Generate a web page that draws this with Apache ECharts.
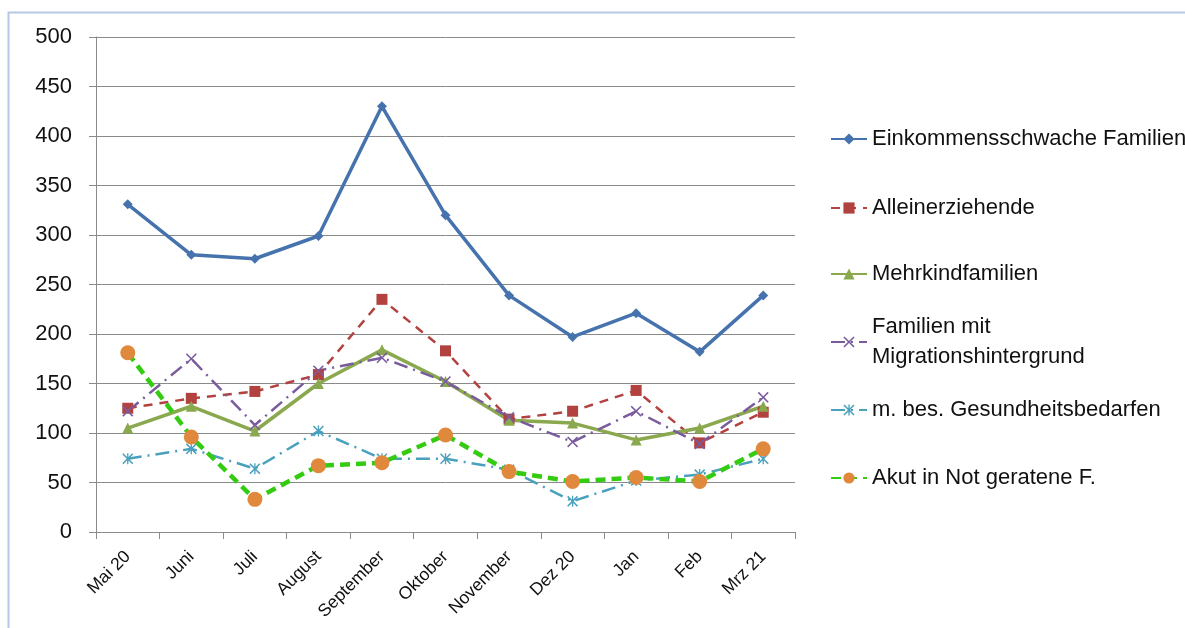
<!DOCTYPE html>
<html>
<head>
<meta charset="utf-8">
<script src="https://cdn.jsdelivr.net/npm/echarts@6/dist/echarts.min.js"></script>
<style>html,body{margin:0;padding:0;background:#fff;}#chart{width:1185px;height:628px;}</style>
</head>
<body>
<div id="chart"></div>
<script>
const categories = ['Mai 20','Juni','Juli','August','September','Oktober','November','Dez 20','Jan','Feb','Mrz 21'];
const yTicks = [0,50,100,150,200,250,300,350,400,450,500];
const seriesNames = ['Einkommensschwache Familien','Alleinerziehende','Mehrkindfamilien','Familien mit Migrationshintergrund','m. bes. Gesundheitsbedarfen','Akut in Not geratene F.'];
const einkommensschwach = [331,280,276,299,430,320,239,197,221,182,239];
const alleinerziehende = [125,135,142,159,235,183,114,122,143,90,121];
const mehrkind = [105,127,102,150,184,152,113,110,93,105,127];
const migration = [122,175,108,163,176,152,116,91,122,89,136];
const gesundheit = [74,84,64,102,74,74,63,31,52,58,74];
const akut = [181,96,33,67,70,98,61,51,55,51,84];

const FONT = '"Liberation Sans", Arial, sans-serif';
const xPath = 'path://M0,1 L1,0 L5,4 L9,0 L10,1 L6,5 L10,9 L9,10 L5,6 L1,10 L0,9 L4,5 Z';
const starPath = 'path://M0,1 L1,0 L5,4 L9,0 L10,1 L6,5 L10,9 L9,10 L5,6 L1,10 L0,9 L4,5 Z M4.4,0 L5.6,0 L5.6,10 L4.4,10 Z';

const chart = echarts.init(document.getElementById('chart'), null, {renderer:'canvas'});

const legendCenters = [139, 208, 274, 342, 410, 478];
const legends = seriesNames.map((n, i) => {
  const two = n.indexOf('Migrations') >= 0;
  return {
    data: [n],
    orient: 'vertical',
    left: 830,
    top: two ? legendCenters[i] - 45 : legendCenters[i] - 15,
    padding: 0,
    itemWidth: 36,
    itemHeight: 14,
    itemGap: 0,
    selectedMode: false,
    formatter: two ? () => 'Familien mit\nMigrationshintergrund' : undefined,
    textStyle: Object.assign({fontSize: 22, fontFamily: FONT, color: '#111', lineHeight: 30}, two ? {padding: [30,0,0,0]} : {})
  };
});

chart.setOption({
  animation: false,
  backgroundColor: '#fff',
  graphic: [{
    type: 'polyline', silent: true,
    shape: {points: [[8.5, 628], [8.5, 12.5], [1185, 12.5]]},
    style: {stroke: '#b4c9e6', lineWidth: 2, fill: null}
  }],
  legend: legends,
  grid: {left: 96, right: 390, top: 37, bottom: 96, containLabel: false},
  xAxis: {
    type: 'category',
    data: categories,
    boundaryGap: true,
    axisLine: {lineStyle: {color: '#8a8a8a', width: 1}},
    axisTick: {show: true, alignWithLabel: false, length: 7, lineStyle: {color: '#8a8a8a'}},
    axisLabel: {rotate: 45, fontSize: 17.5, fontFamily: FONT, color: '#111', margin: 22, interval: 0}
  },
  yAxis: {
    type: 'value',
    min: 0, max: 500, interval: 50,
    axisLine: {show: true, lineStyle: {color: '#8a8a8a', width: 1}},
    axisTick: {show: true, length: 7, lineStyle: {color: '#8a8a8a'}},
    splitLine: {show: true, lineStyle: {color: '#8a8a8a', width: 1}},
    axisLabel: {fontSize: 22, fontFamily: FONT, color: '#111', margin: 24,
      formatter: v => yTicks.indexOf(v) >= 0 ? String(v) : ''}
  },
  series: [
    {name: seriesNames[0], type: 'line', data: einkommensschwach, symbol: 'diamond', symbolSize: 10,
      lineStyle: {color: '#4673ad', width: 3.5}, itemStyle: {color: '#4673ad'}},
    {name: seriesNames[1], type: 'line', data: alleinerziehende, symbol: 'rect', symbolSize: 11,
      lineStyle: {color: '#b2423f', width: 2.5, type: [9, 7]}, itemStyle: {color: '#b2423f'}},
    {name: seriesNames[2], type: 'line', data: mehrkind, symbol: 'triangle', symbolSize: 11,
      lineStyle: {color: '#8aa84e', width: 3.5}, itemStyle: {color: '#8aa84e'}},
    {name: seriesNames[3], type: 'line', data: migration, symbol: xPath, symbolSize: 11,
      lineStyle: {color: '#7a5c9e', width: 2.5, type: [14, 6, 2, 6]}, itemStyle: {color: '#7a5c9e'}},
    {name: seriesNames[4], type: 'line', data: gesundheit, symbol: starPath, symbolSize: 11,
      lineStyle: {color: '#4aa1bd', width: 2.5, type: [14, 6, 2, 6]}, itemStyle: {color: '#4aa1bd'}},
    {name: seriesNames[5], type: 'line', data: akut, symbol: 'circle', symbolSize: 15,
      lineStyle: {color: '#33cc11', width: 4.5, type: [10, 6]}, itemStyle: {color: '#e0893d'}}
  ]
});
</script>
</body>
</html>
